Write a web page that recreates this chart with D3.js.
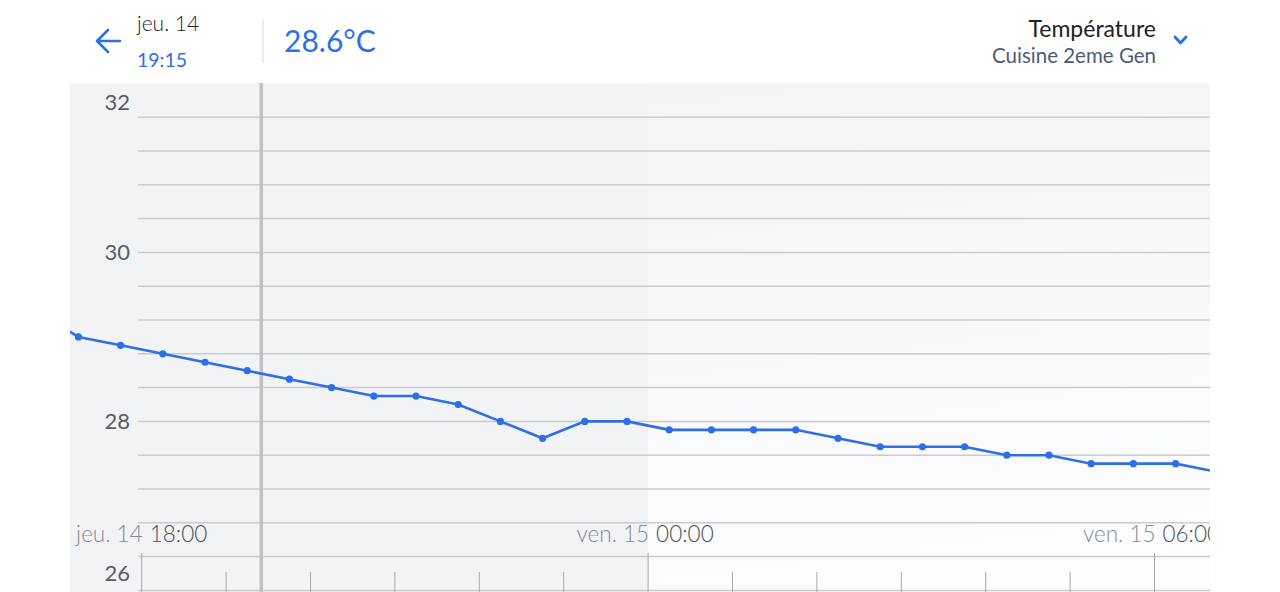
<!DOCTYPE html>
<html><head><meta charset="utf-8">
<script src="https://cdn.jsdelivr.net/npm/d3@7"></script>
<style>
html,body{margin:0;padding:0;background:#fff;overflow:hidden;}
svg{display:block;font-family:Lato,"Open Sans",sans-serif;}
</style></head>
<body><svg id="c" width="1280" height="592"></svg>
<script>
// ---- data ----
const times = ["2019-11-14T16:45","2019-11-14T17:15","2019-11-14T17:45","2019-11-14T18:15","2019-11-14T18:45",
  "2019-11-14T19:15","2019-11-14T19:45","2019-11-14T20:15","2019-11-14T20:45","2019-11-14T21:15",
  "2019-11-14T21:45","2019-11-14T22:15","2019-11-14T22:45","2019-11-14T23:15","2019-11-14T23:45",
  "2019-11-15T00:15","2019-11-15T00:45","2019-11-15T01:15","2019-11-15T01:45","2019-11-15T02:15",
  "2019-11-15T02:45","2019-11-15T03:15","2019-11-15T03:45","2019-11-15T04:15","2019-11-15T04:45",
  "2019-11-15T05:15","2019-11-15T05:45","2019-11-15T06:15","2019-11-15T06:45"];
const temps = [29.3,29.0,28.9,28.8,28.7,28.6,28.5,28.4,28.3,28.3,28.2,28.0,27.8,28.0,28.0,
  27.9,27.9,27.9,27.9,27.8,27.7,27.7,27.7,27.6,27.6,27.5,27.5,27.5,27.4];
const yTickLabels = [26,28,30,32];
const gridValues = [26.0,26.4,26.8,27.2,27.6,28.0,28.4,28.8,29.2,29.6,30.0,30.4,30.8,31.2,31.6];
const majorTicks = ["2019-11-14T18:00","2019-11-15T00:00","2019-11-15T06:00"];
const majorDates = ["jeu. 14","ven. 15","ven. 15"];
const majorTimes = ["18:00","00:00","06:00"];
const minorTicks = ["2019-11-14T19:00","2019-11-14T20:00","2019-11-14T21:00","2019-11-14T22:00","2019-11-14T23:00",
  "2019-11-15T01:00","2019-11-15T02:00","2019-11-15T03:00","2019-11-15T04:00","2019-11-15T05:00"];
const dayBands = [["2019-11-14T12:00","2019-11-15T00:00"],["2019-11-15T00:00","2019-11-15T12:00"]];
const cursorTime = "2019-11-14T19:25";
const headerDate = "jeu. 14", headerTime = "19:15", headerValue = "28.6°C";
const titleText = "Température", subtitleText = "Cuisine 2eme Gen";

// ---- layout ----
const parse = d3.timeParse("%Y-%m-%dT%H:%M");
const L = 70, R = 1210, T = 83, B = 592;
const blue = "#2e6fe8";
const svg = d3.select("#c");
const x = d3.scaleTime()
  .domain([parse("2019-11-14T18:00"), parse("2019-11-15T00:00")])
  .range([141.7, 648.1]);
const y = d3.scaleLinear().domain([26, 32]).range([590.4, 83.4]);

const defs = svg.append("defs");
defs.append("clipPath").attr("id","clip").append("rect")
  .attr("x",L).attr("y",T).attr("width",R-L).attr("height",B-T);
const grad = defs.append("linearGradient").attr("id","g2").attr("x1",0).attr("y1",0).attr("x2",0.25).attr("y2",1);
grad.append("stop").attr("offset","0%").attr("stop-color","#f3f4f6");
grad.append("stop").attr("offset","100%").attr("stop-color","#fdfdfe");

const plot = svg.append("g").attr("clip-path","url(#clip)");
// day bands
plot.selectAll("rect.band").data(dayBands).join("rect").attr("class","band")
  .attr("x", d => x(parse(d[0]))).attr("width", d => x(parse(d[1])) - x(parse(d[0])))
  .attr("y", T).attr("height", B-T)
  .attr("fill", (d,i) => i===0 ? "#f2f3f5" : "url(#g2)");

// gridlines
plot.selectAll("line.grid").data(gridValues).join("line").attr("class","grid")
  .attr("x1",138).attr("x2",R).attr("y1",d=>y(d)).attr("y2",d=>y(d))
  .attr("stroke","#c9cbd0").attr("stroke-width",1.5);

// ticks
plot.selectAll("line.minor").data(minorTicks).join("line")
  .attr("x1",d=>x(parse(d))).attr("x2",d=>x(parse(d)))
  .attr("y1",572).attr("y2",B).attr("stroke","#a3a8b2").attr("stroke-width",1);
plot.selectAll("line.major").data(majorTicks).join("line")
  .attr("x1",d=>x(parse(d))).attr("x2",d=>x(parse(d)))
  .attr("y1",553).attr("y2",B).attr("stroke","#a3a8b2").attr("stroke-width",1);

// x labels
const xl = plot.selectAll("g.xl").data(majorTicks).join("g")
  .attr("transform", d => `translate(${x(parse(d))},542)`);
xl.append("text").attr("x",1).attr("text-anchor","end")
  .attr("font-size",22.5).attr("font-weight",300).attr("fill","#858a95")
  .text((d,i)=>majorDates[i]);
xl.append("text").attr("x",8).attr("text-anchor","start")
  .attr("font-size",22.5).attr("font-weight",300).attr("fill","#4a4f5b")
  .text((d,i)=>majorTimes[i]);

// y labels
svg.selectAll("text.yl").data(yTickLabels).join("text")
  .attr("x",130).attr("text-anchor","end")
  .attr("y", d => Math.max(T+19, Math.min(B-19, y(d))))
  .attr("dy","0.35em").attr("font-size",22).attr("fill","#585c64")
  .text(d=>d);

// cursor
plot.append("line").attr("x1",x(parse(cursorTime))).attr("x2",x(parse(cursorTime)))
  .attr("y1",T).attr("y2",B).attr("stroke","#bfc1c5").attr("stroke-width",3.5);

// series
const pts = times.map((t,i)=>({t:parse(t), v:temps[i]}));
plot.append("path").datum(pts)
  .attr("d", d3.line().x(d=>x(d.t)).y(d=>y(d.v)))
  .attr("fill","none").attr("stroke",blue).attr("stroke-width",2.6);
plot.selectAll("circle").data(pts).join("circle")
  .attr("cx",d=>x(d.t)).attr("cy",d=>y(d.v)).attr("r",3.6).attr("fill",blue);

// header
svg.append("path").attr("d","M120,41 H97 M108,30 L97,41 L108,52")
  .attr("fill","none").attr("stroke",blue).attr("stroke-width",2.6)
  .attr("stroke-linecap","round").attr("stroke-linejoin","round");
svg.append("text").attr("x",137).attr("y",31).attr("font-size",21).attr("font-weight",300).attr("fill","#222").text(headerDate);
svg.append("text").attr("x",137).attr("y",67).attr("font-size",19.5).attr("fill",blue).text(headerTime);
svg.append("line").attr("x1",263).attr("x2",263).attr("y1",20).attr("y2",63).attr("stroke","#e6e7eb").attr("stroke-width",1.5);
svg.append("text").attr("x",284).attr("y",52).attr("font-size",30).attr("fill",blue).text(headerValue);
svg.append("text").attr("x",1156).attr("y",37).attr("text-anchor","end").attr("font-size",23).attr("fill","#222").text(titleText);
svg.append("text").attr("x",1156).attr("y",63).attr("text-anchor","end").attr("font-size",20.5).attr("fill","#4f5b78").text(subtitleText);
svg.append("path").attr("d","M1175,37 L1180.5,43 L1186,37")
  .attr("fill","none").attr("stroke",blue).attr("stroke-width",2.8)
  .attr("stroke-linecap","round").attr("stroke-linejoin","round");
</script></body></html>
